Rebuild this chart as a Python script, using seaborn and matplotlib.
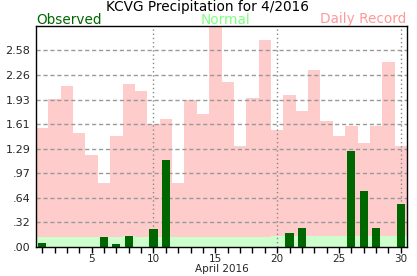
import numpy as np
import pandas as pd
import seaborn as sns
import matplotlib
matplotlib.use("Agg")
import matplotlib.pyplot as plt
from matplotlib.ticker import FixedLocator

days = list(range(1, 31))
record = [1.56, 1.94, 2.11, 1.49, 1.21, 0.84, 1.46, 2.14, 2.05, 1.62,
          1.68, 0.84, 1.93, 1.74, 2.90, 2.17, 1.33, 1.95, 2.72, 1.53,
          2.00, 1.78, 2.32, 1.65, 1.46, 1.59, 1.37, 1.59, 2.43, 1.33]
normal = [0.13, 0.13, 0.13, 0.13, 0.13, 0.13, 0.13, 0.14, 0.13, 0.13,
          0.13, 0.13, 0.13, 0.13, 0.13, 0.13, 0.13, 0.13, 0.13, 0.14,
          0.14, 0.14, 0.15, 0.15, 0.14, 0.15, 0.15, 0.14, 0.15, 0.15]
observed = [0.05, 0.0, 0.0, 0.0, 0.0, 0.13, 0.04, 0.15, 0.0, 0.23,
            1.14, 0.0, 0.0, 0.0, 0.0, 0.0, 0.0, 0.0, 0.0, 0.0,
            0.19, 0.25, 0.0, 0.0, 0.0, 1.26, 0.74, 0.25, 0.0, 0.56]
ytick_vals = [0.0, 0.3225, 0.645, 0.9675, 1.29, 1.6125, 1.935, 2.2575, 2.58]
ytick_labels = [".00", ".32", ".64", ".97", "1.29", "1.61", "1.93", "2.26", "2.58"]
xtick_major = [5, 10, 15, 20, 25, 30]

df = pd.DataFrame({"day": days, "record": record, "normal": normal, "observed": observed})

sns.set_theme(style="white")
plt.rcParams['font.family'] = ['DejaVu Sans']

fig = plt.figure(figsize=(4.17, 2.76), dpi=100)
fig.patch.set_facecolor("white")
ax = fig.add_axes([36/417, 1-247/276, (407-36)/417, (247-26)/276])
ax.set_facecolor("white")

sns.barplot(data=df, x="day", y="record", native_scale=True, width=1.0,
            color="#ffcccc", saturation=1, linewidth=0, ax=ax, zorder=1)
sns.barplot(data=df, x="day", y="normal", native_scale=True, width=1.0,
            color="#ccffcc", saturation=1, linewidth=0, ax=ax, zorder=2)

for y in ytick_vals[1:]:
    ax.axhline(y, color="#999999", linestyle=(0, (3, 2)), linewidth=1, zorder=3)
for x in [10, 20, 30]:
    ax.axvline(x, color="#888888", linestyle=(0, (1, 2)), linewidth=1, zorder=3)

sns.barplot(data=df, x="day", y="observed", native_scale=True, width=0.65,
            color="#006600", saturation=1, linewidth=0, ax=ax, zorder=4)

ax.set_xlim(0.5, 30.5)
ax.set_ylim(0, 2.9)
ax.yaxis.set_major_locator(FixedLocator(ytick_vals))
ax.set_yticklabels(ytick_labels)
ax.xaxis.set_major_locator(FixedLocator(xtick_major))
ax.set_xticklabels([str(v) for v in xtick_major])
ax.xaxis.set_minor_locator(FixedLocator(days))
ax.tick_params(axis="x", which="both", direction="out", length=4, width=1,
               color="black", labelsize=7.5, pad=1, bottom=True)
ax.tick_params(axis="y", which="both", length=0, labelsize=8, pad=4)
ax.set_xlabel("April 2016", fontsize=7.5, labelpad=0)
ax.set_ylabel("")
for s in ax.spines.values():
    s.set_color("black")
    s.set_linewidth(1)
    s.set_visible(True)
    s.set_zorder(5)

fig.text(207/417, 1-11/276, "KCVG Precipitation for 4/2016", ha="center",
         va="baseline", fontsize=9.8, color="black")
fig.text(36/417, 1-23.5/276, "Observed", ha="left", va="baseline",
         fontsize=9.8, color="#006600")
fig.text(225/417, 1-23.5/276, "Normal", ha="center", va="baseline",
         fontsize=9.8, color="#80ff80")
fig.text(406/417, 1-23.5/276, "Daily Record", ha="right", va="baseline",
         fontsize=9.8, color="#ff9999")

fig.savefig("out.png", dpi=100, facecolor="white")
